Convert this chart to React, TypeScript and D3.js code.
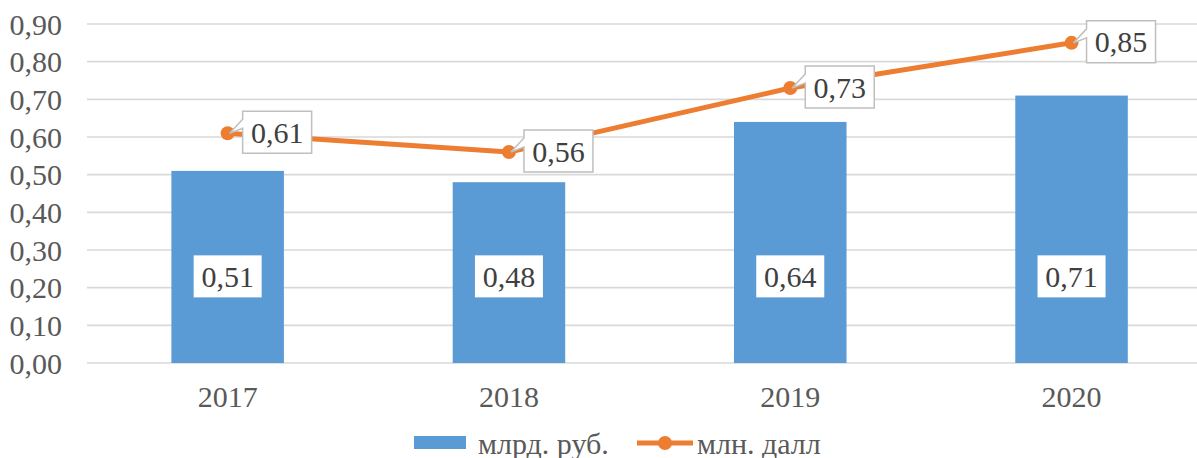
import React from "react";
import * as d3 from "d3";

const years = ["2017", "2018", "2019", "2020"];
const rubValues = [0.51, 0.48, 0.64, 0.71];
const dalValues = [0.61, 0.56, 0.73, 0.85];
const yTicks = [0, 0.1, 0.2, 0.3, 0.4, 0.5, 0.6, 0.7, 0.8, 0.9];
const seriesNames = ["млрд. руб.", "млн. далл"];

const W = 1197;
const H = 458;
const FONT = "'Liberation Serif', 'Times New Roman', serif";
const BLUE = "#5B9BD5";
const ORANGE = "#ED7D31";
const GRID = "#d9d9d9";
const TXT = "#595959";
const LBL = "#404040";
const FS = 30;

const fmt = (v: number) => v.toFixed(2).replace(".", ",");

export default function App() {
  const plotLeft = 87;
  const step = 281.3;
  const x = d3
    .scalePoint<string>()
    .domain(years)
    .range([plotLeft + step / 2, plotLeft + step * 3.5]);
  const y = d3.scaleLinear().domain([0, 0.9]).range([363, 24]);
  const barW = step * 0.4;
  const line = d3
    .line<number>()
    .x((_, i) => x(years[i]) as number)
    .y((d) => y(d));

  const boxW = 69;
  const boxH = 42;

  return (
    <svg
      width={W}
      height={H}
      style={{ position: "absolute", left: 0, top: 0, background: "#fff" }}
      fontFamily={FONT}
    >
      {yTicks.map((t) => (
        <g key={t}>
          <line x1={plotLeft} x2={W + 20} y1={y(t)} y2={y(t)} stroke={GRID} strokeWidth={1.6} />
          <text x={62} y={y(t)} dy="0.35em" textAnchor="end" fontSize={FS} fill={TXT}>
            {fmt(t)}
          </text>
        </g>
      ))}
      {years.map((yr, i) => (
        <g key={yr}>
          <rect
            x={(x(yr) as number) - barW / 2}
            y={y(rubValues[i])}
            width={barW}
            height={y(0) - y(rubValues[i])}
            fill={BLUE}
          />
          <text x={x(yr)} y={396} dy="0.35em" textAnchor="middle" fontSize={FS} fill={TXT}>
            {yr}
          </text>
        </g>
      ))}
      {years.map((yr, i) => {
        const cx = x(yr) as number;
        const cy = y(0.23);
        return (
          <g key={"bl" + yr}>
            <rect x={cx - 34} y={cy - boxH / 2} width={68} height={boxH} fill="#fff" />
            <text x={cx} y={cy} dy="0.35em" textAnchor="middle" fontSize={FS} fill={LBL}>
              {fmt(rubValues[i])}
            </text>
          </g>
        );
      })}
      <path d={line(dalValues) || ""} fill="none" stroke={ORANGE} strokeWidth={5} strokeLinejoin="round" />
      {years.map((yr, i) => (
        <circle key={"m" + yr} cx={x(yr)} cy={y(dalValues[i])} r={7} fill={ORANGE} />
      ))}
      {years.map((yr, i) => {
        const px = x(yr) as number;
        const py = y(dalValues[i]);
        const left = px + 15;
        const top = py - 1 - boxH / 2;
        const d = `M${left},${top} H${left + boxW} V${top + boxH} H${left} V${top + 17} L${px + 2},${py} L${left},${top + 8} Z`;
        return (
          <g key={"ll" + yr}>
            <path d={d} fill="#fff" stroke="#bfbfbf" strokeWidth={1.5} />
            <text x={left + boxW / 2} y={top + boxH / 2} dy="0.35em" textAnchor="middle" fontSize={FS} fill={LBL}>
              {fmt(dalValues[i])}
            </text>
          </g>
        );
      })}
      <g>
        <rect x={414} y={436} width={52} height={13} fill={BLUE} />
        <text x={478} y={443} dy="0.35em" fontSize={FS} fill={TXT}>
          {seriesNames[0]}
        </text>
        <line x1={637} x2={693} y1={443} y2={443} stroke={ORANGE} strokeWidth={5} />
        <circle cx={665} cy={443} r={7} fill={ORANGE} />
        <text x={697} y={443} dy="0.35em" fontSize={FS} fill={TXT}>
          {seriesNames[1]}
        </text>
      </g>
    </svg>
  );
}
